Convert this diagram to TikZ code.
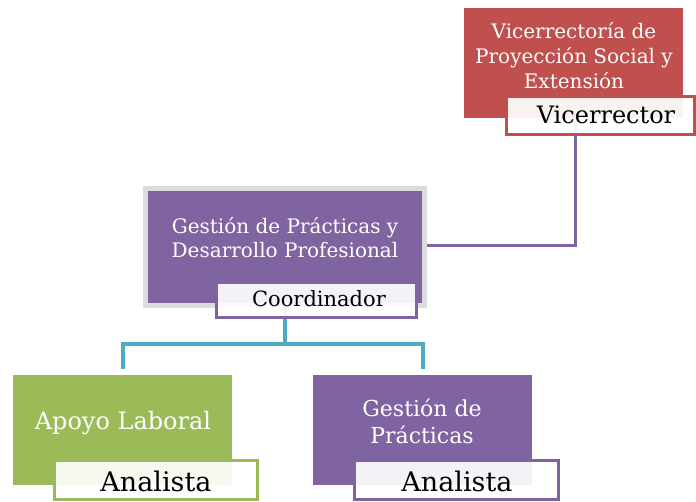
\documentclass[tikz,border=0pt]{standalone}
\usepackage{fontspec}
\setmainfont{DejaVu Serif}
\definecolor{vred}{HTML}{C0504D}
\definecolor{vpurple}{HTML}{8064A2}
\definecolor{vgreen}{HTML}{9BBB59}
\definecolor{vblue}{HTML}{4BACC6}
\definecolor{vgrey}{HTML}{DCDCDC}
\pgfdeclarelayer{bg}
\pgfsetlayers{bg,main}
\begin{document}
\begin{tikzpicture}[x=1pt,y=-1pt,
  unit/.style={rectangle, inner sep=0pt, minimum width=219pt, minimum height=110pt},
  tag/.style={rectangle, inner sep=0pt, fill=white, fill opacity=0.92, line width=3pt},
  wtext/.style={text=white, align=center, inner sep=0pt},
  btext/.style={text=black, inner sep=0pt, anchor=base},
  pline/.style={draw=vpurple, line width=3pt},
  bline/.style={draw=vblue, line width=4pt}]
\useasboundingbox (0,0) rectangle (696,501);
% boxes
\node[unit, fill=vred] (vic) at (573.5,63) {};
\node[tag, draw=vred, minimum width=188pt, minimum height=38pt] (vicr) at (600.5,115.5) {};
\node[unit, fill=vpurple, draw=vgrey, line width=5pt, minimum width=279pt, minimum height=117pt] (mid) at (285,247) {};
\node[tag, draw=vpurple, minimum width=200pt, minimum height=35pt] (coord) at (316.5,300) {};
\node[unit, fill=vgreen] (green) at (122.5,430) {};
\node[tag, draw=vgreen, minimum width=203pt, minimum height=39pt] (greenr) at (156,480) {};
\node[unit, fill=vpurple] (purp) at (422.5,430) {};
\node[tag, draw=vpurple, minimum width=204pt, minimum height=39pt] (purpr) at (456.5,480) {};
% texts
\node[wtext, font=\fontsize{20}{25}\selectfont] (vicT) at (574,55.5) {Vicerrectoría de\\Proyección Social y\\Extensión};
\node[btext, font=\fontsize{24}{28}\selectfont] (vicrT) at (606,123) {Vicerrector};
\node[wtext, font=\fontsize{20}{24}\selectfont] (midT) at (285,237.5) {Gestión de Prácticas y\\Desarrollo Profesional};
\node[btext, font=\fontsize{21}{24}\selectfont] (coordT) at (319,306) {Coordinador};
\node[wtext, anchor=base, font=\fontsize{24}{28}\selectfont] (greenT) at (123,429) {Apoyo Laboral};
\node[wtext, font=\fontsize{22}{27}\selectfont] (purpT) at (422,421) {Gestión de\\Prácticas};
\node[btext, font=\fontsize{27}{30}\selectfont] (anaG) at (156,491) {Analista};
\node[btext, font=\fontsize{27}{30}\selectfont] (anaP) at (457,491) {Analista};
% connectors
\coordinate (bus) at (285,344);
\begin{pgfonlayer}{bg}
\draw[pline] ([xshift=1.5pt]vic.south) |- ([yshift=2pt]mid.east);
\draw[bline] (mid.south) -- (bus);
\draw[bline, shorten <=6pt, shorten >=6pt] (green.north) |- (bus) -| (purp.north);
\end{pgfonlayer}
\end{tikzpicture}
\end{document}
